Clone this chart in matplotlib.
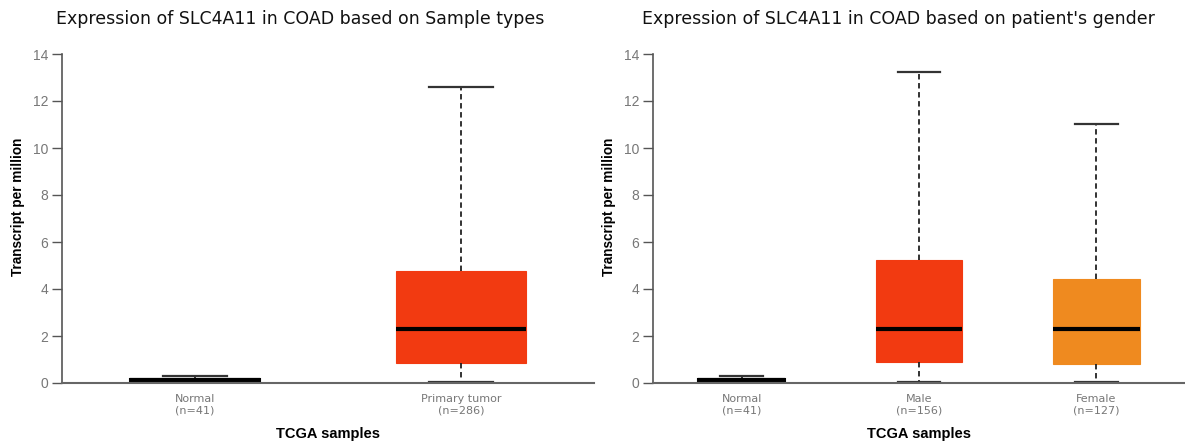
import matplotlib.pyplot as plt

# Box statistics (TPM)
type_labels = ["Normal\n(n=41)", "Primary tumor\n(n=286)"]
type_whislo = [0.02, 0.05]
type_q1 = [0.09, 0.84]
type_med = [0.14, 2.30]
type_q3 = [0.19, 4.78]
type_whishi = [0.31, 12.58]
type_colors = ["#1b3fa8", "#f23a11"]

gender_labels = ["Normal\n(n=41)", "Male\n(n=156)", "Female\n(n=127)"]
gender_whislo = [0.02, 0.04, 0.04]
gender_q1 = [0.09, 0.89, 0.81]
gender_med = [0.14, 2.30, 2.30]
gender_q3 = [0.19, 5.23, 4.43]
gender_whishi = [0.31, 13.23, 11.02]
gender_colors = ["#1b3fa8", "#f23a11", "#ef8a1f"]

y_ticks = [0, 2, 4, 6, 8, 10, 12, 14]


def make_stats(labels, whislo, q1, med, q3, whishi):
    stats = []
    for i in range(len(labels)):
        stats.append(dict(label=labels[i], whislo=whislo[i], q1=q1[i], med=med[i],
                          q3=q3[i], whishi=whishi[i], fliers=[]))
    return stats


def draw_panel(ax, stats, colors):
    n = len(stats)
    bp = ax.bxp(stats, positions=list(range(n)), widths=0.49, patch_artist=True,
                showfliers=False, capwidths=0.24,
                boxprops=dict(linewidth=0.8),
                whiskerprops=dict(color='#222222', linestyle=(0, (3, 2)), linewidth=1.3),
                capprops=dict(color='#333333', linewidth=1.6),
                medianprops=dict(color='black', linewidth=3))
    for patch, c in zip(bp['boxes'], colors):
        patch.set_facecolor(c)
        patch.set_edgecolor(c)
    bp['boxes'][0].set_edgecolor('black')
    bp['boxes'][0].set_linewidth(1.5)

    ax.set_xlim(-0.5, n - 0.5)
    ax.set_ylim(0, 14)
    ax.set_yticks(y_ticks)
    ax.spines['top'].set_visible(False)
    ax.spines['right'].set_visible(False)
    ax.spines['left'].set_color('#555555')
    ax.spines['bottom'].set_color('#666666')
    ax.spines['left'].set_linewidth(1.2)
    ax.spines['bottom'].set_linewidth(1.5)
    ax.tick_params(axis='y', direction='out', length=7, width=1, color='#555555',
                   labelcolor='#777777', labelsize=10, pad=3)
    ax.tick_params(axis='x', length=0, labelcolor='#777777', labelsize=8, pad=8)
    for t in ax.get_yticklabels():
        t.set_family('Liberation Sans')
    ax.set_ylabel("Transcript per million", fontsize=9.8, fontweight='bold',
                  family='Liberation Sans')
    ax.yaxis.set_label_coords(-37 / 532, 0.535)
    ax.set_xlabel("TCGA samples", fontsize=10.5, fontweight='bold',
                  family='Liberation Sans', labelpad=8)


fig = plt.figure(figsize=(11.85, 4.45), dpi=100)
W, H = 1185, 445
ax1 = fig.add_axes([62 / W, (H - 383) / H, 532 / W, 329 / H])
ax2 = fig.add_axes([653 / W, (H - 383) / H, 532 / W, 329 / H])

draw_panel(ax1, make_stats(type_labels, type_whislo, type_q1, type_med, type_q3, type_whishi),
           type_colors)
draw_panel(ax2, make_stats(gender_labels, gender_whislo, gender_q1, gender_med, gender_q3,
                           gender_whishi), gender_colors)

fig.text(300 / W, 1 - 19 / H, "Expression of SLC4A11 in COAD based on Sample types",
         ha='center', va='center', fontsize=12.5, color='#111111')
fig.text(898 / W, 1 - 19 / H, "Expression of SLC4A11 in COAD based on patient's gender",
         ha='center', va='center', fontsize=12.5, color='#111111')

fig.savefig("out.png", dpi=100)
